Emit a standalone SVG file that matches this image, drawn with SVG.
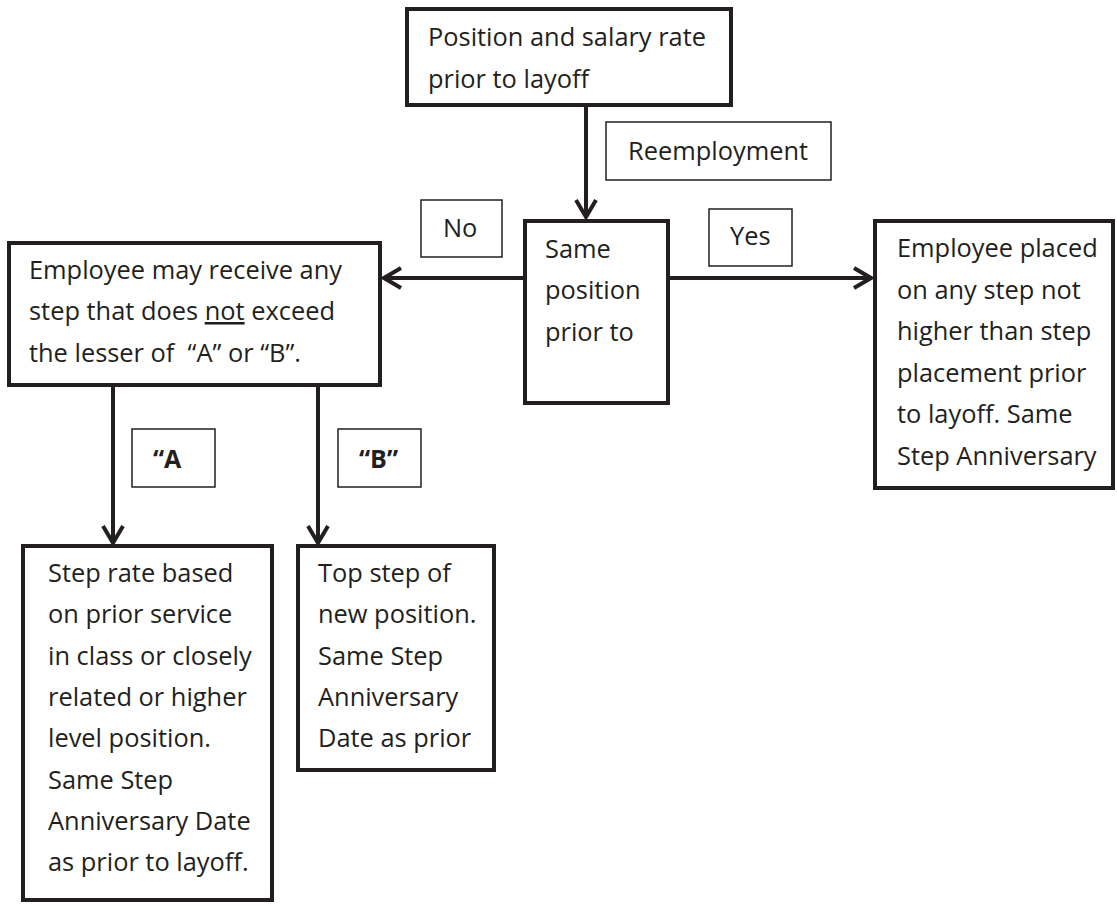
<svg xmlns="http://www.w3.org/2000/svg" width="1117" height="911" viewBox="0 0 1117 911">
  <style>
    .box { fill: #ffffff; stroke: #231f20; stroke-width: 4; }
    .tag { fill: #ffffff; stroke: #231f20; stroke-width: 1.5; }
    .txt { font-family: "Open Sans", "Liberation Sans", sans-serif; font-size: 25.4px; fill: #231f20; white-space: pre; }
    .bold { font-family: "Open Sans", "Liberation Sans", sans-serif; font-size: 25px; font-weight: bold; fill: #231f20; }
    .wire { fill: none; stroke: #231f20; stroke-width: 4; }
  </style>
  <defs>
    <marker id="chev" viewBox="-20 -13 22 26" markerWidth="22" markerHeight="26" refX="0" refY="0" orient="auto" markerUnits="userSpaceOnUse">
      <path d="M-17,-10 L0,0 L-17,10" fill="none" stroke="#231f20" stroke-width="4"/>
    </marker>
  </defs>

  <rect width="1117" height="911" fill="#ffffff"/>

  <!-- connectors -->
  <g id="connectors">
    <line class="wire" x1="586" y1="105" x2="586" y2="217" marker-end="url(#chev)"/>
    <line class="wire" x1="524" y1="278" x2="384" y2="278" marker-end="url(#chev)"/>
    <line class="wire" x1="668" y1="278" x2="871" y2="278" marker-end="url(#chev)"/>
    <line class="wire" x1="113" y1="385" x2="113" y2="543" marker-end="url(#chev)"/>
    <line class="wire" x1="318" y1="385" x2="318" y2="543" marker-end="url(#chev)"/>
  </g>

  <!-- edge labels -->
  <g id="label-reemployment">
    <rect class="tag" x="606" y="122" width="225" height="58"/>
    <text class="txt" x="628" y="160">Reemployment</text>
  </g>
  <g id="label-no">
    <rect class="tag" x="421" y="200" width="81" height="57"/>
    <text class="txt" x="443" y="237">No</text>
  </g>
  <g id="label-yes">
    <rect class="tag" x="709" y="209" width="83" height="57"/>
    <text class="txt" x="730" y="245">Yes</text>
  </g>
  <g id="label-a">
    <rect class="tag" x="132" y="429" width="83" height="58"/>
    <text class="bold" x="153" y="468">“A</text>
  </g>
  <g id="label-b">
    <rect class="tag" x="338" y="429" width="83" height="58"/>
    <text class="bold" x="359" y="468">“B”</text>
  </g>

  <!-- nodes -->
  <g id="node-prior">
    <rect class="box" x="407" y="9" width="324" height="96"/>
    <text class="txt" x="428" y="46">Position and salary rate</text>
    <text class="txt" x="428" y="88">prior to layoff</text>
  </g>

  <g id="node-same">
    <rect class="box" x="525" y="221" width="143" height="182"/>
    <text class="txt" x="545" y="258">Same</text>
    <text class="txt" x="545" y="299">position</text>
    <text class="txt" x="545" y="341">prior to</text>
  </g>

  <g id="node-yes">
    <rect class="box" x="875" y="221" width="238" height="267"/>
    <text class="txt" x="897" y="257">Employee placed</text>
    <text class="txt" x="897" y="299">on any step not</text>
    <text class="txt" x="897" y="340">higher than step</text>
    <text class="txt" x="897" y="382">placement prior</text>
    <text class="txt" x="897" y="423">to layoff. Same</text>
    <text class="txt" x="897" y="465">Step Anniversary</text>
  </g>

  <g id="node-no">
    <rect class="box" x="9" y="243" width="371" height="142"/>
    <text class="txt" x="29" y="279">Employee may receive any</text>
    <text class="txt" x="29" y="320">step that does <tspan text-decoration="underline">not</tspan> exceed</text>
    <text class="txt" x="29" y="362">the lesser of  “A” or “B”.</text>
  </g>

  <g id="node-a">
    <rect class="box" x="23" y="546" width="249" height="354"/>
    <text class="txt" x="48" y="582">Step rate based</text>
    <text class="txt" x="48" y="623">on prior service</text>
    <text class="txt" x="48" y="665">in class or closely</text>
    <text class="txt" x="48" y="706">related or higher</text>
    <text class="txt" x="48" y="747">level position.</text>
    <text class="txt" x="48" y="789">Same Step</text>
    <text class="txt" x="48" y="830">Anniversary Date</text>
    <text class="txt" x="48" y="871">as prior to layoff.</text>
  </g>

  <g id="node-b">
    <rect class="box" x="298" y="546" width="196" height="224"/>
    <text class="txt" x="318" y="582">Top step of</text>
    <text class="txt" x="318" y="623">new position.</text>
    <text class="txt" x="318" y="665">Same Step</text>
    <text class="txt" x="318" y="706">Anniversary</text>
    <text class="txt" x="318" y="747">Date as prior</text>
  </g>
</svg>
